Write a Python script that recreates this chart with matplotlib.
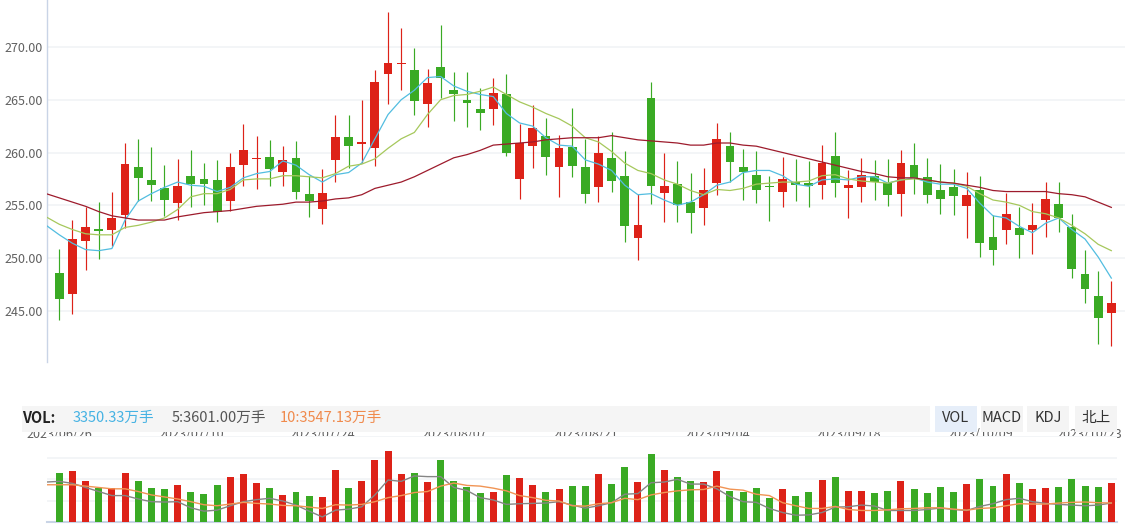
import matplotlib
matplotlib.use("Agg")
import matplotlib.pyplot as plt
from matplotlib.patches import Rectangle
from matplotlib.transforms import blended_transform_factory
import numpy as np

# daily candles, 2023/06/26 onwards
opens = [248.6, 246.6, 251.6, 252.7, 252.7, 254.1, 258.6, 257.4, 256.6, 255.2,
         257.8, 257.5, 257.4, 255.4, 258.8, 259.4, 259.6, 258.2, 259.5, 256.1,
         254.6, 259.3, 261.5, 260.8, 260.4, 267.4, 268.4, 267.8, 264.6, 268.1,
         265.9, 265.0, 264.1, 264.1, 265.5, 257.5, 260.6, 261.6, 258.6, 260.5,
         258.6, 256.7, 259.5, 257.8, 251.9, 265.2, 256.2, 257.0, 255.3, 254.7,
         257.1, 260.6, 258.6, 257.9, 256.8, 256.3, 257.2, 257.1, 256.9, 259.7,
         256.6, 256.7, 257.8, 257.1, 256.1, 258.8, 257.7, 256.4, 256.7, 254.9,
         256.4, 252.0, 252.7, 252.8, 252.7, 253.6, 255.1, 252.9, 248.5, 246.4,
         244.8]
closes = [246.1, 251.8, 252.9, 252.6, 253.8, 258.9, 257.6, 256.9, 255.5, 256.8,
          257.0, 257.0, 254.4, 258.6, 260.2, 259.5, 258.4, 259.3, 256.3, 255.4,
          256.2, 261.5, 260.6, 261.0, 266.7, 268.5, 268.5, 264.9, 266.6, 267.1,
          265.5, 264.7, 263.7, 265.6, 260.0, 260.9, 262.3, 259.6, 260.4, 258.7,
          256.1, 260.0, 257.3, 253.0, 253.1, 256.8, 256.8, 255.0, 254.3, 256.4,
          261.3, 259.1, 258.2, 256.4, 256.7, 257.5, 256.9, 256.8, 259.0, 257.1,
          256.9, 257.9, 257.2, 256.0, 259.0, 257.6, 256.0, 255.6, 255.9, 256.0,
          251.4, 250.8, 254.2, 252.2, 253.1, 255.6, 253.8, 249.0, 247.1, 244.3,
          245.7]
highs = [250.9, 253.6, 254.8, 255.3, 256.3, 260.9, 261.3, 260.5, 258.8, 259.4,
         260.2, 259.0, 259.3, 260.0, 262.7, 261.6, 261.2, 260.6, 261.1, 257.8,
         258.4, 263.6, 263.6, 265.0, 267.8, 273.3, 271.8, 269.9, 267.9, 272.1,
         267.6, 267.6, 266.1, 267.1, 267.4, 262.7, 264.5, 263.3, 261.7, 264.2,
         261.3, 261.6, 261.9, 260.1, 256.1, 266.7, 260.0, 259.2, 258.1, 258.5,
         262.8, 261.9, 260.3, 260.1, 257.8, 259.6, 259.4, 259.2, 260.7, 261.9,
         258.3, 259.5, 259.3, 259.4, 260.2, 260.9, 259.5, 258.9, 258.4, 258.2,
         257.8, 254.1, 256.2, 254.8, 255.2, 257.2, 257.2, 254.2, 250.8, 248.8,
         247.8]
lows = [244.1, 244.7, 248.9, 249.9, 251.1, 252.8, 255.4, 255.4, 254.0, 253.6,
        254.8, 255.0, 253.4, 254.5, 256.8, 256.5, 256.8, 256.8, 255.6, 253.9,
        253.2, 257.2, 258.5, 259.0, 258.7, 264.6, 265.9, 263.6, 262.4, 265.2,
        263.0, 262.4, 262.1, 262.6, 259.7, 255.6, 258.5, 257.9, 255.8, 257.7,
        255.2, 255.3, 256.3, 251.5, 249.8, 255.1, 253.4, 253.4, 252.4, 253.1,
        256.0, 257.2, 255.5, 255.2, 253.5, 254.8, 255.4, 254.8, 255.6, 255.8,
        253.8, 255.3, 255.5, 254.9, 254.0, 256.1, 255.2, 254.2, 254.1, 251.9,
        250.1, 249.3, 251.3, 250.0, 250.4, 252.0, 252.5, 248.1, 245.7, 241.9,
        241.7]

# moving averages, first value belongs to the day before the first candle
ma5 = [253.1,
       252.2, 251.4, 250.8, 250.7, 250.9, 253.6, 255.4, 256.1, 256.7, 257.2,
       256.9, 256.8, 256.3, 256.7, 257.6, 258.0, 258.2, 259.2, 258.8, 257.9,
       257.2, 257.9, 258.1, 259.0, 261.3, 263.6, 265.0, 265.9, 267.1, 267.2,
       266.3, 265.8, 265.5, 265.3, 263.7, 262.8, 262.5, 261.4, 260.7, 260.6,
       259.3, 258.9, 258.3, 256.9, 256.0, 256.1, 255.5, 255.0, 255.3, 256.0,
       256.9, 257.2, 258.1, 258.3, 258.3, 257.8, 257.0, 256.8, 257.4, 257.5,
       257.4, 257.7, 257.7, 257.1, 257.4, 257.6, 257.2, 257.0, 257.0, 256.6,
       255.2, 254.0, 253.8, 253.0, 252.4, 253.3, 253.8, 252.7, 251.8, 250.1,
       248.1]
ma10 = [253.9,
        253.2, 252.7, 252.3, 252.2, 252.2, 252.9, 253.1, 253.4, 253.8, 254.6,
        255.8, 256.1, 256.1, 256.5, 257.4, 257.5, 257.5, 257.8, 257.8, 257.7,
        257.6, 258.0, 258.7, 258.9, 259.4, 260.4, 261.3, 261.9, 263.6, 265.0,
        265.4, 265.5, 265.8, 266.2, 265.5, 264.8, 264.3, 263.7, 263.2, 262.5,
        261.4, 261.0, 260.1, 259.0, 258.3, 258.0, 257.4, 257.0, 256.4, 256.0,
        256.5, 256.4, 256.6, 257.0, 257.1, 257.2, 257.2, 257.3, 257.8, 257.9,
        257.5, 257.3, 257.2, 257.1, 257.4, 257.5, 257.4, 257.2, 257.1, 256.8,
        256.1, 255.5, 255.3, 255.0, 254.4, 254.2, 253.8, 253.1, 252.3, 251.3,
        250.7]
ma30 = [256.1,
        255.7, 255.3, 254.9, 254.4, 254.0, 253.8, 253.6, 253.6, 253.6, 253.9,
        254.1, 254.3, 254.4, 254.5, 254.7, 254.9, 255.0, 255.1, 255.3, 255.3,
        255.4, 255.6, 255.7, 256.0, 256.6, 256.9, 257.2, 257.7, 258.3, 258.9,
        259.5, 259.8, 260.2, 260.7, 260.8, 260.9, 261.0, 261.2, 261.3, 261.4,
        261.4, 261.4, 261.6, 261.4, 261.2, 261.1, 261.0, 260.9, 260.7, 260.7,
        260.9, 260.9, 260.7, 260.6, 260.3, 260.0, 259.7, 259.4, 259.1, 258.8,
        258.5, 258.2, 258.0, 257.7, 257.6, 257.6, 257.4, 257.2, 257.1, 256.9,
        256.7, 256.4, 256.3, 256.3, 256.3, 256.3, 256.1, 256.0, 255.8, 255.3,
        254.8]

# volume (万手)
volumes = [4536, 4725, 3780, 3150, 3119, 4536, 3780, 3119, 3024, 3402,
           2835, 2646, 3402, 4158, 4442, 3591, 3119, 2552, 2835, 2457,
           2363, 4820, 3119, 3780, 5765, 6615, 4442, 4536, 3686, 5765,
           3780, 3213, 2741, 2835, 4347, 4064, 3402, 2835, 3024, 3308,
           3308, 4442, 3497, 5103, 3686, 6332, 4820, 4158, 3780, 3686,
           4725, 2930, 2835, 3119, 2268, 3024, 2457, 2835, 3875, 4158,
           2930, 2930, 2741, 2930, 3780, 3024, 2741, 3213, 2835, 3497,
           3969, 3308, 4442, 3591, 3024, 3119, 3213, 3969, 3308, 3213,
           3591]
vol_ma5 = [3717,
           3780, 3591, 3213, 2835, 2457, 2457, 2142, 1890, 1858, 1890,
           1323, 1008, 1102, 1512, 1890, 2079, 2205, 1953, 1575, 1008,
           472, 1102, 1197, 1417, 2520, 3906, 3780, 4284, 4221, 4221,
           3213, 2930, 2268, 2048, 1638, 1701, 1733, 1764, 1890, 1575,
           1292, 1512, 1795, 2583, 2646, 3654, 3717, 3969, 3528, 3528,
           3087, 2363, 1890, 1827, 1260, 882, 630, 661, 882, 1386,
           1417, 1575, 1480, 1071, 1071, 1071, 1165, 1292, 1165, 1071,
           1449, 1701, 2079, 2205, 1890, 1733, 1638, 1575, 1512, 1575,
           1764]
vol_ma10 = [3465,
            3465, 3465, 3339, 3213, 3087, 3087, 2835, 2520, 2331, 2142,
            1890, 1606, 1512, 1670, 1827, 1733, 1670, 1543, 1512, 1386,
            1260, 1606, 1575, 1638, 1890, 2268, 2457, 2741, 2835, 3339,
            3622, 3402, 3339, 3150, 2898, 2457, 2268, 2016, 1953, 1512,
            1480, 1701, 1795, 2205, 2079, 2520, 2741, 2898, 2993, 3024,
            3339, 3056, 2961, 2583, 2457, 1795, 1512, 1260, 1260, 1449,
            1165, 1071, 1071, 1134, 1228, 1260, 1323, 1323, 1197, 1102,
            1260, 1323, 1512, 1701, 1670, 1670, 1764, 1827, 1858, 1795,
            1764]

date_labels = ["2023/06/26", "2023/07/10", "2023/07/24", "2023/08/07", "2023/08/21",
               "2023/09/04", "2023/09/18", "2023/10/09", "2023/10/23"]
price_ticks = [245, 250, 255, 260, 265, 270]
vol_ticks = [2000, 4000, 6000, 8000]

RED = "#dd2218"
GREEN = "#3aaa24"

plt.rcParams['font.family'] = ['Noto Sans CJK SC', 'DejaVu Sans']

W, H = 1125, 524
fig = plt.figure(figsize=(W / 100, H / 100), dpi=100)

n = len(closes)
x = np.arange(n)
x_ma = np.arange(-1, n)
o = np.array(opens)
c = np.array(closes)
up = c >= o
colors = [RED if u else GREEN for u in up]

# ---- price panel ----
ax = fig.add_axes([47 / W, (H - 362) / H, (W - 47) / W, 362 / H])
ax.set_xlim(-0.935, 81.04)
ax.set_ylim(240.15, 274.45)

ax.vlines(x, lows, highs, colors=colors, linewidth=0.85, zorder=3)
body_bottom = np.minimum(o, c)
body_height = np.maximum(np.abs(c - o), 0.12)
ax.bar(x, body_height, bottom=body_bottom, width=0.67, color=colors, linewidth=0, zorder=4)

ax.plot(x_ma, ma5, color="#52bde0", lw=0.9, zorder=5)
ax.plot(x_ma, ma10, color="#a6c85c", lw=0.9, zorder=5)
ax.plot(x_ma, ma30, color="#9d1b2c", lw=0.9, zorder=5)

ax.set_yticks(price_ticks)
ax.set_yticklabels(["%.2f" % v for v in price_ticks])
ax.tick_params(axis='y', length=0, pad=3, labelsize=9, labelcolor="#606060")
ax.set_xticks([])
ax.yaxis.grid(True, color="#f1f3f6", lw=1.2)
ax.set_axisbelow(True)
for s in ["top", "right", "bottom"]:
    ax.spines[s].set_visible(False)
ax.spines["left"].set_color("#c9d4e6")
ax.spines["left"].set_linewidth(1.0)

# date labels, partly hidden behind the VOL header
tr = blended_transform_factory(ax.transData, fig.transFigure)
for k, lab in enumerate(date_labels):
    last = k == len(date_labels) - 1
    xpos = 80.85 if last else k * 10
    ax.text(xpos, (H - 434) / H, lab, transform=tr, ha="right" if last else "center",
            va="center", fontsize=9, color="#606060", clip_on=False)

# ---- volume panel ----
axv = fig.add_axes([47 / W, 2 / H, (1117 - 47) / W, (522 - 436) / H])
axv.set_xlim(-0.935, 80.43)
axv.set_ylim(0, 8000)
axv.bar(x, volumes, width=0.53, color=colors, linewidth=0, zorder=3)
axv.plot(x_ma, vol_ma5, color="#858585", lw=1.0, zorder=4)
axv.plot(x_ma, vol_ma10, color="#f19454", lw=1.0, zorder=4)
axv.set_yticks(vol_ticks)
axv.set_yticklabels([])
axv.set_xticks([])
axv.tick_params(length=0)
axv.yaxis.grid(True, color="#f1f3f6", lw=1.2)
axv.set_axisbelow(True)
for s in ["top", "right", "left"]:
    axv.spines[s].set_visible(False)
axv.spines["bottom"].set_color("#c9d4e6")
axv.spines["bottom"].set_linewidth(1.5)

# ---- VOL header bar ----
fig.patches.append(Rectangle((22 / W, (H - 432) / H), (930 - 22) / W, 26 / H,
                             transform=fig.transFigure, facecolor="#f5f5f5",
                             edgecolor="none", zorder=5))
ty = (H - 418) / H
fig.text(22 / W, ty, "VOL:", fontsize=10.5, fontweight="bold", color="#222222", va="center", zorder=6)
fig.text(73 / W, ty, "3350.33万手", fontsize=10.5, color="#45b2e3", va="center", zorder=6)
fig.text(172 / W, ty, "5:3601.00万手", fontsize=10.5, color="#555555", va="center", zorder=6)
fig.text(280 / W, ty, "10:3547.13万手", fontsize=10.5, color="#f08a4c", va="center", zorder=6)

buttons = ["VOL", "MACD", "KDJ", "北上"]
btn_centers = [956, 1002, 1048, 1096]
for lab, cx in zip(buttons, btn_centers):
    face = "#e6eef9" if lab == "VOL" else "#f4f4f4"
    fig.patches.append(Rectangle(((cx - 21) / W, (H - 432) / H), 42 / W, 26 / H,
                                 transform=fig.transFigure, facecolor=face,
                                 edgecolor="none", zorder=5))
    fig.text(cx / W, ty, lab, fontsize=10.5, color="#333333", ha="center", va="center", zorder=6)

fig.savefig("out.png", dpi=100)
